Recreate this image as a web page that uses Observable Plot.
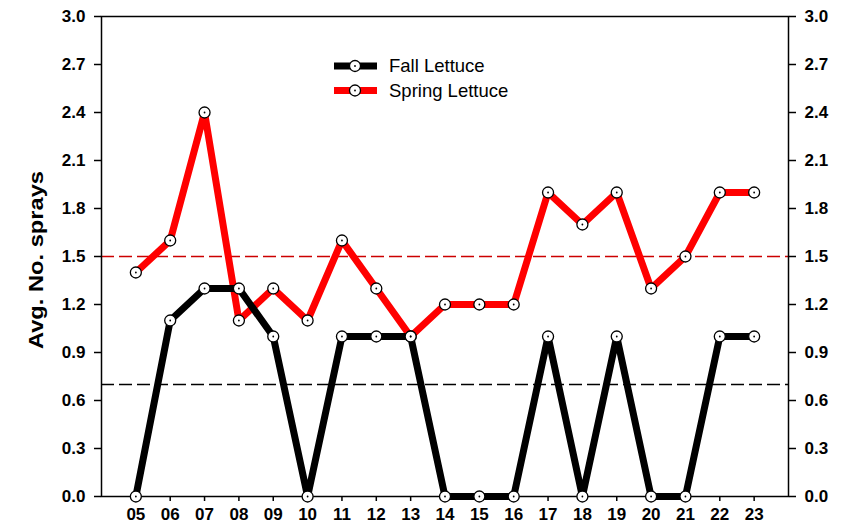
<!DOCTYPE html>
<html>
<head>
<meta charset="utf-8">
<script src="https://cdn.jsdelivr.net/npm/d3@7"></script>
<script src="https://cdn.jsdelivr.net/npm/@observablehq/plot@0.6"></script>
<style>
  html, body { margin: 0; padding: 0; background: #fff; }
  #chart { width: 854px; height: 525px; }
</style>
</head>
<body>
<div id="chart"></div>
<script>
// ---- data ----
const yearLabels = ["05","06","07","08","09","10","11","12","13","14","15","16","17","18","19","20","21","22","23"];
const fallValues   = [0.0, 1.1, 1.3, 1.3, 1.0, 0.0, 1.0, 1.0, 1.0, 0.0, 0.0, 0.0, 1.0, 0.0, 1.0, 0.0, 0.0, 1.0, 1.0];
const springValues = [1.4, 1.6, 2.4, 1.1, 1.3, 1.1, 1.6, 1.3, 1.0, 1.2, 1.2, 1.2, 1.9, 1.7, 1.9, 1.3, 1.5, 1.9, 1.9];
const seriesNames = ["Fall Lettuce", "Spring Lettuce"];
const fallThreshold = [0.7];
const springThreshold = [1.5];
const yTicks = [0.0, 0.3, 0.6, 0.9, 1.2, 1.5, 1.8, 2.1, 2.4, 2.7, 3.0];
const yLabel = "Avg. No. sprays";

// ---- build rows ----
const fall = yearLabels.map((y, i) => ({year: +y, value: fallValues[i]}));
const spring = yearLabels.map((y, i) => ({year: +y, value: springValues[i]}));
const xTicks = yearLabels.map(d => +d);
const allPts = spring.concat(fall);

const plot = Plot.plot({
  width: 854,
  height: 525,
  marginLeft: 101,
  marginRight: 66,
  marginTop: 16,
  marginBottom: 29,
  style: {fontFamily: "'Liberation Sans', Arial, sans-serif", fontSize: "17px", fontWeight: "bold", color: "black", background: "white"},
  x: {type: "linear", domain: [4, 24]},
  y: {domain: [0, 3]},
  marks: [
    Plot.ruleY(springThreshold, {stroke: "#cc0000", strokeWidth: 1.5, strokeDasharray: "13,5"}),
    Plot.ruleY(fallThreshold, {stroke: "black", strokeWidth: 1.5, strokeDasharray: "13,5"}),
    Plot.line(spring, {x: "year", y: "value", stroke: "#ff0000", strokeWidth: 7, strokeLinejoin: "round"}),
    Plot.line(fall, {x: "year", y: "value", stroke: "black", strokeWidth: 7, strokeLinejoin: "round"}),
    Plot.frame({stroke: "black", strokeWidth: 1.5}),
    Plot.axisX({ticks: xTicks, tickFormat: d => String(d).padStart(2, "0"), tickSize: 5, tickPadding: 6, label: null, strokeWidth: 1.5}),
    Plot.axisY({anchor: "left", ticks: yTicks, tickFormat: d => d.toFixed(1), tickSize: 7, tickPadding: 9, label: null, strokeWidth: 1.5}),
    Plot.axisY({anchor: "right", ticks: yTicks, tickFormat: d => d.toFixed(1), tickSize: 7, tickPadding: 9, label: null, strokeWidth: 1.5}),
    Plot.dot(allPts, {x: "year", y: "value", r: 5.5, fill: "white", stroke: "black", strokeWidth: 1.3}),
    Plot.dot(allPts, {x: "year", y: "value", r: 0.9, fill: "black"})
  ]
});

const svg = d3.select(plot);

// y axis title
svg.append("text")
  .attr("transform", "translate(43,260) rotate(-90)")
  .attr("text-anchor", "middle")
  .attr("font-family", "'Liberation Sans', Arial, sans-serif")
  .attr("font-size", "21px")
  .attr("font-weight", "bold")
  .attr("fill", "black")
  .attr("textLength", 178)
  .attr("lengthAdjust", "spacingAndGlyphs")
  .text(yLabel);

// legend
const legendColors = ["black", "#ff0000"];
const lg = svg.append("g").attr("transform", "translate(334,66)");
seriesNames.forEach((name, i) => {
  const g = lg.append("g").attr("transform", `translate(0,${i * 24.5})`);
  g.append("line").attr("x1", 0).attr("x2", 43).attr("y1", 0).attr("y2", 0)
    .attr("stroke", legendColors[i]).attr("stroke-width", 7);
  g.append("circle").attr("cx", 21).attr("cy", 0).attr("r", 5.5)
    .attr("fill", "white").attr("stroke", "black").attr("stroke-width", 1.3);
  g.append("circle").attr("cx", 21).attr("cy", 0).attr("r", 0.9).attr("fill", "black");
  g.append("text").attr("x", 55).attr("y", 0).attr("dy", "0.35em")
    .attr("text-anchor", "start")
    .attr("font-family", "'Liberation Sans', Arial, sans-serif")
    .attr("font-size", "18.5px").attr("font-weight", "normal").attr("fill", "black")
    .text(name);
});

document.getElementById("chart").appendChild(plot);
</script>
</body>
</html>
